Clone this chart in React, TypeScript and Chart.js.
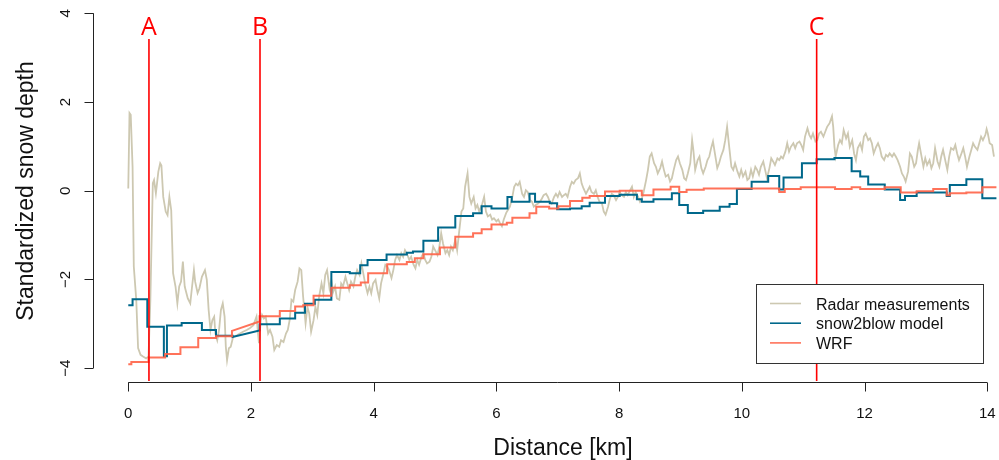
import React, { useEffect, useRef } from "react";
import { Chart, registerables } from "chart.js";

Chart.register(...registerables);

// ---- data ----
const xTicks = [0, 2, 4, 6, 8, 10, 12, 14];
const yTicks = [-4, -2, 0, 2, 4];
const yTickLabels = ["\u22124", "\u22122", "0", "2", "4"];
const xTitle = "Distance [km]";
const yTitle = "Standardized snow depth";

const markerKm = [0.337, 2.147, 11.22];
const markerLabels = ["A", "B", "C"];
const markerTop = 3.42;
const markerLabelY = 3.51;

const legendLabels = ["Radar measurements", "snow2blow model", "WRF"];
const radarColor = "#CDC8B1";
const s2bColor = "#00688B";
const wrfColor = "rgba(255,99,71,0.9)";

const radarKm = [
  0.0, 0.02, 0.04, 0.07, 0.09, 0.13, 0.16, 0.2, 0.24, 0.29, 0.33, 0.36, 0.4, 0.42, 0.45, 0.49, 0.52, 0.54, 0.57, 0.61,
  0.64, 0.67, 0.7, 0.73, 0.77, 0.8, 0.83, 0.86, 0.89, 0.92, 0.97, 1.01, 1.04, 1.07, 1.09, 1.13, 1.16, 1.2, 1.25, 1.28,
  1.31, 1.34, 1.37, 1.4, 1.42, 1.45, 1.48, 1.51, 1.54, 1.57, 1.59, 1.61, 1.64, 1.67, 1.71, 1.77, 1.82, 1.87, 1.93, 1.98,
  2.04, 2.09, 2.13, 2.16, 2.18, 2.21, 2.24, 2.28, 2.31, 2.35, 2.38, 2.42, 2.46, 2.49, 2.53, 2.57, 2.6, 2.63, 2.66, 2.69,
  2.72, 2.76, 2.79,
  2.82, 2.85, 2.89, 2.92, 2.95, 2.98, 3.02, 3.05, 3.08, 3.11, 3.15, 3.18, 3.21, 3.24, 3.28, 3.31, 3.34, 3.37, 3.4, 3.44,
  3.47, 3.5, 3.54, 3.57, 3.6, 3.63, 3.67, 3.7, 3.73, 3.77, 3.8, 3.83, 3.86, 3.9, 3.93, 3.96, 3.99, 4.03, 4.06, 4.09,
  4.12, 4.16, 4.19, 4.22, 4.25, 4.29, 4.32, 4.35, 4.38, 4.42, 4.45, 4.48, 4.51, 4.55, 4.58, 4.61, 4.65, 4.68, 4.71, 4.74,
  4.78, 4.81, 4.84, 4.87, 4.91, 4.94, 4.97, 5.0, 5.04, 5.07, 5.1, 5.13, 5.17, 5.2, 5.23, 5.26, 5.29, 5.33, 5.36, 5.39,
  5.43, 5.46, 5.49, 5.53, 5.56, 5.59, 5.63, 5.66, 5.69, 5.72,
  5.77, 5.8, 5.83, 5.86, 5.9, 5.93, 5.96, 6.0, 6.03, 6.06, 6.09, 6.12, 6.16, 6.19, 6.22, 6.26, 6.29, 6.32, 6.35, 6.38,
  6.42, 6.45, 6.48, 6.51, 6.55, 6.58, 6.61, 6.64, 6.68, 6.71, 6.74, 6.77, 6.81, 6.84, 6.87, 6.9, 6.94, 6.97, 7.0, 7.03,
  7.07, 7.1, 7.13, 7.16, 7.2, 7.23, 7.26, 7.29, 7.33, 7.36, 7.39, 7.42, 7.46, 7.49, 7.52, 7.55, 7.59, 7.62, 7.65, 7.68,
  7.72, 7.75, 7.78, 7.82, 7.85, 7.88, 7.91, 7.95, 7.98, 8.01, 8.04, 8.08, 8.11, 8.14, 8.18, 8.21, 8.24, 8.27, 8.31, 8.34,
  8.37, 8.4, 8.44, 8.47, 8.5, 8.53, 8.57, 8.6, 8.63, 8.67,
  8.7, 8.73, 8.76, 8.8, 8.83, 8.86, 8.89, 8.93, 8.96, 8.99, 9.03, 9.06, 9.09, 9.12, 9.16, 9.19, 9.21, 9.24, 9.28, 9.31,
  9.34, 9.37, 9.41, 9.44, 9.47, 9.5, 9.53, 9.57, 9.6, 9.63, 9.66, 9.7, 9.73, 9.76, 9.8, 9.83, 9.86, 9.89, 9.93, 9.96,
  9.99, 10.02, 10.06, 10.09, 10.12, 10.15, 10.18, 10.22, 10.25, 10.28, 10.31, 10.35, 10.38, 10.41, 10.45, 10.48, 10.51,
  10.54, 10.58, 10.61, 10.64, 10.67, 10.71, 10.74, 10.77, 10.8, 10.84, 10.87, 10.9, 10.94, 10.97, 11.0, 11.03, 11.07,
  11.1, 11.13, 11.16, 11.2, 11.23, 11.26, 11.29, 11.33, 11.36, 11.39, 11.43,
  11.47, 11.49, 11.51, 11.53, 11.57, 11.6, 11.63, 11.66, 11.7, 11.73, 11.76, 11.8, 11.83, 11.86, 11.89, 11.93, 11.96,
  11.99, 12.02, 12.06, 12.09, 12.12, 12.15, 12.19, 12.22, 12.25, 12.28, 12.32, 12.35, 12.38, 12.41, 12.45, 12.48, 12.51,
  12.54, 12.58, 12.61, 12.64, 12.67, 12.71, 12.74, 12.77, 12.81, 12.84, 12.87, 12.89, 12.93, 12.96, 12.99, 13.02, 13.06,
  13.09, 13.12, 13.15, 13.19, 13.22, 13.25, 13.28, 13.32, 13.35, 13.38, 13.41, 13.45, 13.48, 13.51, 13.54, 13.58, 13.61,
  13.64, 13.67, 13.71, 13.74, 13.77, 13.8, 13.84, 13.87, 13.9, 13.93, 13.97, 13.99, 14.01, 14.04, 14.08, 14.11,
];

const radarVal = [
  0.05, 1.75, 1.71, 0.54, -1.71, -2.46, -3.55, -3.7, -3.74, -3.78, -3.74, -2.46, 0.17, 0.24, -0.06, 0.43, 0.62, 0.57,
  -0.14, -0.47, -0.55, -0.14, -0.44, -1.86, -2.16, -2.54, -2.16, -2.05, -1.6, -2.16, -2.43, -2.54, -2.16, -1.79, -2.05,
  -2.31, -2.2, -1.94, -1.79, -2.01, -2.69, -3.14, -2.92, -2.84, -3.22, -3.37, -3.14, -2.69, -2.54, -2.84, -3.52, -3.82,
  -3.55, -3.52, -3.29, -3.26, -3.22, -3.18, -3.14, -3.1, -3.03, -2.84, -3.44, -2.92, -2.8, -2.88, -2.84, -3.22, -3.14,
  -3.29, -3.59, -3.48, -3.52, -3.37, -3.41, -3.22, -3.14, -2.92, -2.46, -2.5, -2.24, -2.05, -1.75,
  -1.79, -2.39, -2.99, -2.62, -2.77, -3.18, -2.92, -2.62, -2.8, -2.39, -2.09, -2.31, -1.9, -1.79, -2.2, -2.01, -2.28,
  -2.16, -2.43, -2.46, -2.09, -2.16, -1.94, -2.09, -2.24, -2.05, -2.16, -1.94, -1.79, -1.9, -1.64, -1.86, -2.09, -2.31,
  -2.16, -2.31, -2.09, -2.01, -2.24, -2.43, -2.09, -1.86, -1.67, -1.71, -1.79, -1.97, -1.79, -1.56, -1.45, -1.56, -1.41,
  -1.49, -1.34, -1.45, -1.56, -1.49, -1.67, -1.75, -1.56, -1.67, -1.49, -1.41, -1.56, -1.64, -1.6, -1.49, -1.26, -1.34,
  -1.45, -1.26, -0.96, -1.19, -1.41, -1.34, -1.45, -1.26, -1.34, -1.11, -1.34, -0.96, -0.47, -0.4, 0.09, 0.39, -0.14,
  -0.29, -0.14, -0.4, -0.32, -0.47,
  -0.29, -0.14, -0.47, -0.58, -0.54, -0.65, -0.62, -0.69, -0.65, -0.73, -0.8, -0.65, -0.5, -0.43, -0.36, -0.14, 0.09,
  0.16, 0.12, 0.2, -0.07, -0.14, 0.01, -0.03, -0.21, -0.25, -0.36, -0.32, -0.29, -0.25, -0.18, -0.1, -0.07, -0.14, -0.25,
  -0.29, -0.14, -0.07, -0.14, -0.03, -0.14, -0.1, -0.07, -0.14, 0.09, 0.2, 0.16, 0.24, 0.28, 0.39, 0.16, 0.05, -0.07,
  0.01, 0.09, -0.03, -0.07, 0.01, -0.14, -0.25, -0.29, -0.47, -0.54, -0.36, -0.18, -0.07, -0.1, -0.21, -0.14, -0.03,
  -0.1, -0.14, -0.03, -0.1, 0.01, 0.09, -0.14, -0.03, -0.14, -0.25, -0.18, -0.03, 0.24, 0.47, 0.77, 0.84, 0.62, 0.54,
  0.39, 0.51,
  0.66, 0.47, 0.32, 0.36, 0.21, 0.28, 0.47, 0.69, 0.77, 0.62, 0.47, 0.28, 0.24, 0.39, 0.62, 1.14, 0.92, 0.47, 0.69, 0.77,
  0.51, 0.39, 0.54, 0.69, 0.77, 0.96, 1.11, 0.77, 0.51, 0.62, 0.77, 0.92, 1.14, 1.44, 0.92, 0.54, 0.47, 0.62, 0.43, 0.32,
  0.47, 0.32, 0.43, 0.24, 0.28, 0.47, 0.32, 0.54, 0.47, 0.36, 0.54, 0.66, 0.47, 0.28, 0.51, 0.73, 0.66, 0.58, 0.73, 0.69,
  0.77, 0.73, 0.88, 1.07, 0.88, 0.99, 1.07, 0.96, 1.07, 1.11, 1.03, 0.92, 1.22, 1.41, 1.26, 1.18, 1.29, 1.11, 1.14, 1.29,
  1.33, 1.22, 1.33, 1.44, 1.52,
  1.68, 1.44, 0.99, 0.77, 1.03, 1.14, 1.07, 1.37, 1.18, 1.29, 0.99, 1.14, 0.84, 0.69, 0.96, 1.07, 0.92, 1.22, 1.29, 1.14,
  1.18, 1.07, 0.84, 0.99, 1.07, 0.96, 0.77, 0.69, 0.81, 0.77, 0.84, 0.77, 0.84, 0.77, 0.69, 0.54, 0.39, 0.32, 0.21, 0.43,
  0.84, 0.77, 0.54, 0.62, 0.92, 1.07, 0.77, 0.54, 0.73, 0.58, 0.69, 0.51, 0.62, 0.96, 0.66, 0.54, 0.77, 0.92, 0.66, 0.47,
  0.77, 0.96, 0.92, 1.03, 0.84, 0.69, 0.84, 0.96, 0.77, 0.54, 0.77, 0.92, 1.07, 0.99, 0.92, 1.07, 1.22, 1.14, 1.26, 1.39,
  1.29, 1.07, 1.03, 0.77,
];

// snow2blow model: step breaks (km) and levels between them ([a, b] = sloping piece)
const s2bBreaks = [
  0, 0.07, 0.31, 0.58, 0.63, 0.87, 1.2, 1.43, 1.7, 2.14, 2.47, 2.72, 2.88, 3.04, 3.31, 3.61, 3.78, 3.9, 4.21, 4.54,
  4.64, 4.81, 5.05, 5.33, 5.62, 5.76, 5.92, 6.18, 6.25, 6.54, 6.63, 6.87, 6.99, 7.2, 7.39, 7.52, 7.77, 8.01, 8.29, 8.37,
  8.56, 8.86, 8.98, 9.12, 9.37, 9.64, 9.8, 9.92, 10.16, 10.43, 10.61, 10.68, 10.98, 11.22, 11.51, 11.79, 11.93, 12.06,
  12.33, 12.58, 12.66, 12.85, 13.34, 13.39, 13.66, 13.92, 14.15,
];
const s2bLevels: (number | [number, number])[] = [
  -2.58, -2.45, -3.07, -3.73, -3.04, -2.98, -3.14, -3.27, [-3.3, -3.15], -3.01,
  -2.88, -2.75, -2.55, -2.46, -1.83, -1.86, -1.68, -1.56, -1.44, -1.4,
  -1.37, -1.13, -0.83, -0.57, -0.51, -0.35, -0.4, -0.14, -0.25, -0.07,
  -0.25, -0.28, -0.42, -0.4, -0.35, -0.27, -0.12, -0.09, -0.19, -0.25,
  -0.19, -0.06, -0.32, -0.5, -0.45, -0.36, -0.3, 0.04, 0.2, 0.33,
  0.03, 0.3, 0.62, 0.71, 0.74, 0.44, 0.32, 0.14, 0.03, -0.21,
  -0.12, -0.04, -0.12, 0.13, 0.26, -0.17,
];

// WRF: step breaks (km) and levels
const wrfBreaks = [
  0, 0.05, 0.33, 0.6, 0.85, 1.14, 1.43, 1.69, 2.14, 2.47, 2.72, 2.85, 3.02, 3.31, 3.61, 3.79, 3.91, 4.22, 4.54, 4.67,
  4.81, 5.08, 5.33, 5.62, 5.76, 5.92, 6.17, 6.26, 6.54, 6.65, 6.86, 7.01, 7.2, 7.4, 7.52, 7.77, 8.01, 8.37, 8.56, 8.84,
  8.98, 9.1, 9.38, 10.61, 10.7, 10.96, 11.52, 11.79, 11.93, 12.33, 12.59, 12.85, 13.12, 13.34, 13.39, 13.66, 13.92,
  14.15,
];
const wrfLevels: (number | [number, number])[] = [
  -3.91, -3.86, -3.76, -3.68, -3.53, -3.32, -3.28, [-3.16, -2.95], -2.83, -2.71,
  -2.61, -2.58, -2.37, -2.19, -2.13, -2.07, -1.86, -1.66, -1.61, -1.52,
  -1.43, -1.28, -1.04, -0.96, -0.87, -0.76, -0.72, -0.61, -0.51, -0.36,
  -0.4, -0.35, -0.23, -0.16, -0.12, -0.02, 0.0, -0.1, 0.03, 0.09,
  -0.03, 0.02, 0.05, -0.03, 0.04, 0.08, 0.04, 0.08, 0.04, 0.08,
  -0.04, -0.01, 0.04, -0.1, -0.06, -0.04, 0.08,
];

// ---- layout ----
const W = 999;
const H = 460;
const FONT = "'Liberation Sans', Arial, Helvetica, sans-serif";

function stepPoints(breaks: number[], levels: (number | [number, number])[]) {
  const pts: { x: number; y: number }[] = [];
  for (let i = 0; i < levels.length; i++) {
    const lv = levels[i];
    const a = Array.isArray(lv) ? lv[0] : lv;
    const b = Array.isArray(lv) ? lv[1] : lv;
    pts.push({ x: breaks[i], y: a }, { x: breaks[i + 1], y: b });
  }
  return pts;
}

const overlayPlugin = {
  id: "overlay",
  afterDraw(chart: any) {
    const ctx = chart.ctx as CanvasRenderingContext2D;
    const xs = chart.scales.x;
    const ys = chart.scales.y;
    const area = chart.chartArea;
    ctx.save();

    // marker lines A, B, C
    ctx.strokeStyle = "#FF0000";
    ctx.lineWidth = 1.6;
    ctx.fillStyle = "#FF0000";
    ctx.font = `25px 'Open Sans', ${FONT}`;
    ctx.textAlign = "center";
    ctx.textBaseline = "alphabetic";
    markerKm.forEach((km, i) => {
      const px = xs.getPixelForValue(km);
      ctx.beginPath();
      ctx.moveTo(px, ys.getPixelForValue(markerTop));
      ctx.lineTo(px, area.bottom - 1);
      ctx.stroke();
      ctx.fillText(markerLabels[i], px, ys.getPixelForValue(markerLabelY));
    });

    // axes
    ctx.strokeStyle = "#222";
    ctx.lineWidth = 1;
    ctx.fillStyle = "#111";
    const axY = Math.round(area.bottom) + 0.5;
    ctx.beginPath();
    ctx.moveTo(xs.getPixelForValue(xTicks[0]), axY);
    ctx.lineTo(xs.getPixelForValue(xTicks[xTicks.length - 1]), axY);
    xTicks.forEach((t) => {
      const px = Math.round(xs.getPixelForValue(t)) + 0.5;
      ctx.moveTo(px, axY);
      ctx.lineTo(px, axY + 9);
    });
    ctx.stroke();
    ctx.font = `15px ${FONT}`;
    ctx.textAlign = "center";
    ctx.textBaseline = "alphabetic";
    xTicks.forEach((t) => {
      ctx.fillText(String(t), xs.getPixelForValue(t), area.bottom + 35.5);
    });

    const axX = Math.round(area.left) + 0.5;
    ctx.beginPath();
    ctx.moveTo(axX, ys.getPixelForValue(yTicks[0]));
    ctx.lineTo(axX, ys.getPixelForValue(yTicks[yTicks.length - 1]));
    yTicks.forEach((t) => {
      const py = Math.round(ys.getPixelForValue(t)) + 0.5;
      ctx.moveTo(axX, py);
      ctx.lineTo(axX - 9, py);
    });
    ctx.stroke();
    yTicks.forEach((t, i) => {
      ctx.save();
      ctx.translate(area.left - 23, ys.getPixelForValue(t));
      ctx.rotate(-Math.PI / 2);
      ctx.fillText(yTickLabels[i], 0, 0);
      ctx.restore();
    });

    // titles
    ctx.font = `23px ${FONT}`;
    ctx.fillText(xTitle, 563, 455);
    ctx.save();
    ctx.translate(33, (area.top + area.bottom) / 2);
    ctx.rotate(-Math.PI / 2);
    ctx.fillText(yTitle, 0, 0);
    ctx.restore();

    // legend
    const lx = 756, ly = 284, lw = 227, lh = 79;
    ctx.fillStyle = "#FFFFFF";
    ctx.fillRect(lx, ly, lw, lh);
    ctx.strokeStyle = "#333";
    ctx.lineWidth = 1;
    ctx.strokeRect(lx + 0.5, ly + 0.5, lw, lh);
    const legColors = [radarColor, s2bColor, wrfColor];
    ctx.font = `16px ${FONT}`;
    ctx.textAlign = "left";
    legendLabels.forEach((lab, i) => {
      const rowY = ly + 19.5 + i * 19.7;
      ctx.strokeStyle = legColors[i];
      ctx.lineWidth = 1.6;
      ctx.beginPath();
      ctx.moveTo(lx + 14, rowY);
      ctx.lineTo(lx + 45, rowY);
      ctx.stroke();
      ctx.fillStyle = "#111";
      ctx.fillText(lab, lx + 60, rowY + 6);
    });

    ctx.restore();
  },
};

export default function App() {
  const ref = useRef<HTMLCanvasElement | null>(null);
  useEffect(() => {
    if (!ref.current) return;
    const radarPts = radarKm.map((k, i) => ({ x: k, y: radarVal[i] }));
    const chart = new Chart(ref.current, {
      type: "line",
      data: {
        datasets: [
          {
            label: "WRF",
            data: stepPoints(wrfBreaks, wrfLevels),
            borderColor: wrfColor,
            borderWidth: 2,
            pointRadius: 0,
            tension: 0,
            fill: false,
          },
          {
            label: "snow2blow model",
            data: stepPoints(s2bBreaks, s2bLevels),
            borderColor: s2bColor,
            borderWidth: 2,
            pointRadius: 0,
            tension: 0,
            fill: false,
          },
          {
            label: "Radar measurements",
            data: radarPts,
            borderColor: radarColor,
            borderWidth: 1.8,
            pointRadius: 0,
            tension: 0,
            fill: false,
          },
        ],
      },
      options: {
        animation: false,
        responsive: false,
        maintainAspectRatio: false,
        events: [],
        layout: { padding: { left: 93, right: 0, top: 0, bottom: 78 } },
        scales: {
          x: { type: "linear", min: -0.575, max: 14.192, display: false },
          y: { type: "linear", min: -4.313, max: 4.3, display: false },
        },
        plugins: {
          legend: { display: false },
          tooltip: { enabled: false },
        },
      },
      plugins: [overlayPlugin],
    });
    return () => chart.destroy();
  }, []);

  return (
    <div style={{ position: "fixed", left: 0, top: 0, width: W, height: H, background: "#fff" }}>
      <canvas ref={ref} width={W} height={H} style={{ width: W, height: H, display: "block" }} />
    </div>
  );
}
